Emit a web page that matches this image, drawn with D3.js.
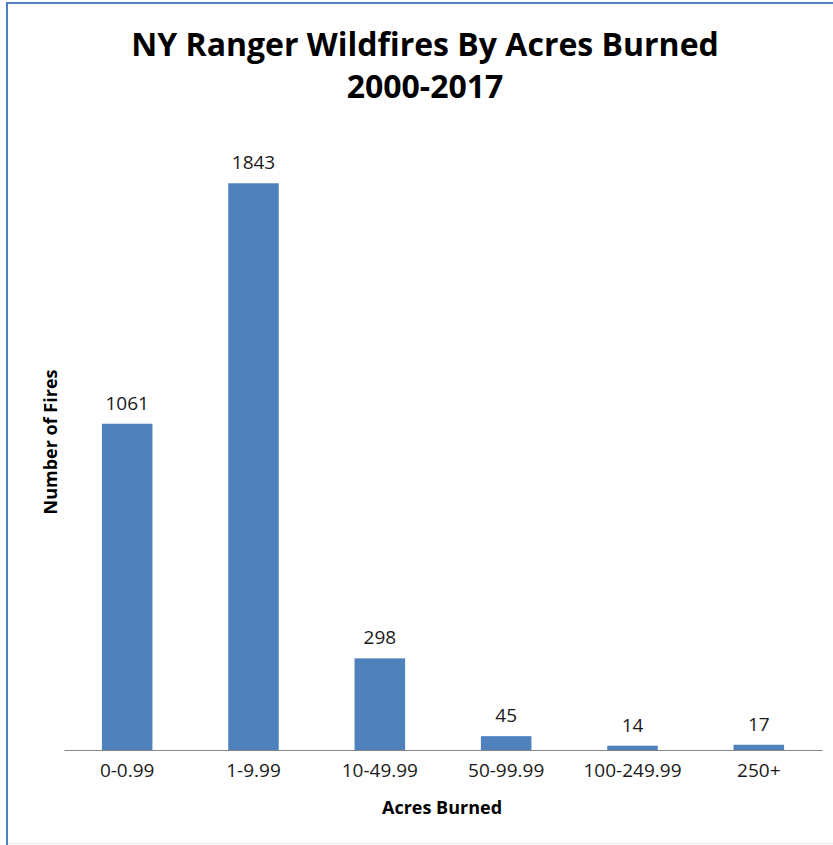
<!DOCTYPE html>
<html>
<head>
<meta charset="utf-8">
<script src="https://cdn.jsdelivr.net/npm/d3@7"></script>
<style>
  body { margin: 0; background: #fff; }
  svg { display: block; font-family: "Open Sans", "Noto Sans", sans-serif; }
</style>
</head>
<body>
<div id="chart"></div>
<script>
const categories = ["0-0.99", "1-9.99", "10-49.99", "50-99.99", "100-249.99", "250+"];
const fires = [1061, 1843, 298, 45, 14, 17];
const titleLines = ["NY Ranger Wildfires By Acres Burned", "2000-2017"];

const W = 833, H = 845;
const margin = { top: 135, right: 11, bottom: 95, left: 64 };
const width = W - margin.left - margin.right;
const height = H - margin.top - margin.bottom;

const svg = d3.select("#chart")
    .append("svg")
    .attr("width", W)
    .attr("height", H);

// chart area border
svg.append("line")
    .attr("x1", 7).attr("x2", 7).attr("y1", 2).attr("y2", H)
    .style("stroke", "#4f81bd").style("stroke-width", 2);
svg.append("line")
    .attr("x1", 6).attr("x2", W).attr("y1", 3).attr("y2", 3)
    .style("stroke", "#4f81bd").style("stroke-width", 2);
svg.append("line")
    .attr("x1", 8).attr("x2", W).attr("y1", 843.5).attr("y2", 843.5)
    .style("stroke", "#e6ebf2").style("stroke-width", 1);

svg.selectAll(".title")
    .data(titleLines)
    .enter()
    .append("text")
    .attr("class", "title")
    .attr("x", 425)
    .attr("y", (d, i) => 56 + i * 42)
    .attr("text-anchor", "middle")
    .style("font-size", "32px")
    .style("font-weight", "bold")
    .style("fill", "#000")
    .text(d => d);

const g = svg.append("g")
    .attr("transform", `translate(${margin.left},${margin.top})`);

const x = d3.scaleBand()
    .domain(categories)
    .range([0, width])
    .paddingInner(0.6)
    .paddingOuter(0.3);

const y = d3.scaleLinear()
    .domain([0, 2000])
    .range([height, 0]);

const data = categories.map((c, i) => ({ cat: c, value: fires[i] }));

g.selectAll(".bar")
    .data(data)
    .enter()
    .append("rect")
    .attr("class", "bar")
    .attr("x", d => x(d.cat))
    .attr("y", d => y(d.value))
    .attr("width", x.bandwidth())
    .attr("height", d => height - y(d.value))
    .attr("fill", "#4f81bd");

g.selectAll(".val")
    .data(data)
    .enter()
    .append("text")
    .attr("class", "val")
    .attr("x", d => x(d.cat) + x.bandwidth() / 2)
    .attr("y", d => y(d.value) - 14)
    .attr("text-anchor", "middle")
    .style("font-size", "19px")
    .style("fill", "#1a1a1a")
    .text(d => d.value);

const xAxis = g.append("g")
    .attr("transform", `translate(0,${height})`)
    .call(d3.axisBottom(x).tickSize(0).tickPadding(14));
xAxis.select(".domain").attr("stroke", "#868686");
xAxis.selectAll("text")
    .style("font-size", "19px")
    .style("fill", "#1a1a1a")
    .style("font-family", "'Open Sans', sans-serif");

g.append("text")
    .attr("x", 442 - margin.left)
    .attr("y", height + 64)
    .attr("text-anchor", "middle")
    .style("font-size", "18px")
    .style("font-weight", "bold")
    .text("Acres Burned");

g.append("text")
    .attr("transform", "rotate(-90)")
    .attr("x", -(442 - margin.top))
    .attr("y", 57 - margin.left)
    .attr("text-anchor", "middle")
    .style("font-size", "18px")
    .style("font-weight", "bold")
    .text("Number of Fires");
</script>
</body>
</html>
